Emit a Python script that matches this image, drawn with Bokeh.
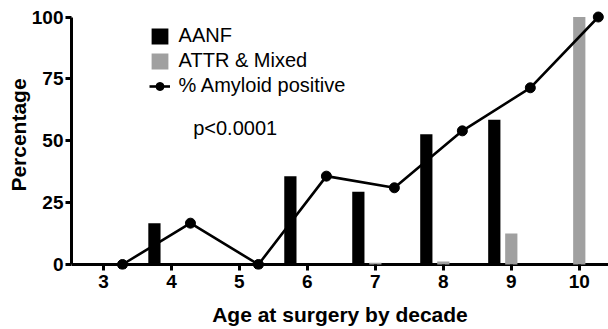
from bokeh.plotting import figure
from bokeh.models import ColumnDataSource, Legend, LegendItem, Range1d, Label, FixedTicker, Span
from bokeh.transform import dodge
from bokeh.embed import file_html
from bokeh.resources import INLINE

# ---- data ----
decades = [3, 4, 5, 6, 7, 8, 9, 10]
aanf = [0, 16.7, 0, 35.7, 29.4, 52.6, 58.5, 0]
attr_mixed = [0, 0, 0, 0, 0.7, 1.2, 12.5, 100]
amyloid_positive = [0, 16.7, 0, 35.7, 31.0, 54.0, 71.4, 100]
y_ticks = [0, 25, 50, 75, 100]
x_title = "Age at surgery by decade"
y_title = "Percentage"
series_names = ["AANF", "ATTR & Mixed", "% Amyloid positive"]
p_value_text = "p<0.0001"

src = ColumnDataSource(dict(decade=decades, aanf=aanf, attr=attr_mixed, pos=amyloid_positive))

FONT = "Liberation Sans"

p = figure(width=608, height=329,
           x_range=Range1d(2.53, 10.43), y_range=Range1d(-2.02, 106.67),
           output_backend="svg", toolbar_location=None,
           min_border_left=71, min_border_right=0, min_border_top=0, min_border_bottom=60)
p.outline_line_color = None
p.xgrid.visible = False
p.ygrid.visible = False

r_aanf = p.vbar(x=dodge("decade", -0.25), top="aanf", bottom=0, width=0.18, source=src,
                fill_color="#000000", line_color=None)
r_attr = p.vbar(x=dodge("decade", 0.0), top="attr", bottom=0, width=0.18, source=src,
                fill_color="#a0a0a0", line_color=None)
r_line = p.line(x=dodge("decade", 0.28), y="pos", source=src, line_color="#000000", line_width=2.6)
r_pts = p.scatter(x=dodge("decade", 0.28), y="pos", source=src, size=10,
                  fill_color="#000000", line_color="#000000")

# baseline (x axis line at y = 0)
p.add_layout(Span(location=0, dimension="width", line_color="#000000", line_width=3, level="underlay"))

# axes
for ax in (p.xaxis[0], p.yaxis[0]):
    ax.axis_line_width = 3
    ax.axis_line_color = "#000000"
    ax.major_tick_line_width = 3
    ax.major_tick_line_color = "#000000"
    ax.minor_tick_line_color = None
    ax.major_label_text_font = FONT
    ax.major_label_text_font_size = "19px"
    ax.major_label_text_font_style = "bold"
    ax.major_label_text_color = "#000000"
    ax.axis_label_text_font = FONT
    ax.axis_label_text_font_size = "21px"
    ax.axis_label_text_font_style = "bold"
    ax.axis_label_text_color = "#000000"

xa = p.xaxis[0]
xa.axis_line_color = None
xa.ticker = FixedTicker(ticks=decades)
xa.major_tick_in = 5
xa.major_tick_out = 1
xa.major_label_standoff = 4
xa.axis_label = x_title
xa.axis_label_standoff = 12

ya = p.yaxis[0]
ya.ticker = FixedTicker(ticks=y_ticks)
ya.bounds = (0, 100)
ya.major_tick_in = 0
ya.major_tick_out = 6
ya.major_label_standoff = 2
ya.axis_label = y_title
ya.axis_label_standoff = -1

legend = Legend(items=[
    LegendItem(label=series_names[0], renderers=[r_aanf]),
    LegendItem(label=series_names[1], renderers=[r_attr]),
    LegendItem(label=series_names[2], renderers=[r_line, r_pts]),
], location=(77.6, 172))
legend.background_fill_alpha = 0
legend.border_line_color = None
legend.padding = 0
legend.margin = 0
legend.spacing = 2
legend.glyph_width = 21
legend.glyph_height = 20
legend.label_height = 20
legend.label_standoff = 9
legend.label_text_font = FONT
legend.label_text_font_size = "20px"
legend.label_text_line_height = 1.0
legend.label_text_color = "#000000"
p.add_layout(legend, "center")

p.add_layout(Label(x=4.32, y=55.3, text=p_value_text, text_font=FONT, text_font_size="20px",
                   text_color="#000000", text_baseline="alphabetic"))

open("out.html", "w").write(file_html(p, INLINE))
